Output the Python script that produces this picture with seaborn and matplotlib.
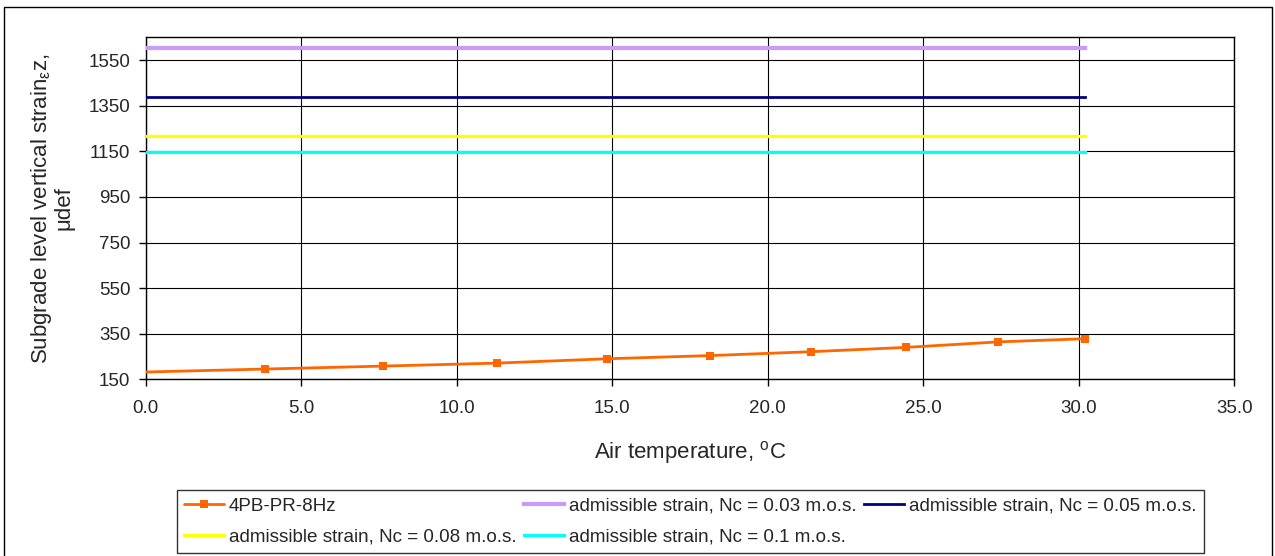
import matplotlib
matplotlib.use("Agg")
import matplotlib.pyplot as plt
import seaborn as sns
import pandas as pd
from matplotlib.patches import Rectangle

# Measured subgrade strain vs. air temperature
temperature = [0.0, 3.84, 7.64, 11.29, 14.82, 18.14, 21.38, 24.44, 27.4, 30.2]
strain_4pb = [182, 195, 208, 221, 240, 254, 271, 290, 314, 328]

# Admissible strain limits (constant over the temperature range)
limit_x = [0.0, 30.2]
limit_labels = [
    "admissible strain, Nc = 0.03 m.o.s.",
    "admissible strain, Nc = 0.05 m.o.s.",
    "admissible strain, Nc = 0.08 m.o.s.",
    "admissible strain, Nc = 0.1 m.o.s.",
]
limit_values = [1601, 1389, 1215, 1146]
limit_colors = ["#CC99FF", "#000080", "#FFFF00", "#00FFFF"]
limit_widths = [3.0, 2.0, 2.3, 2.3]

x_ticks = [0, 5, 10, 15, 20, 25, 30, 35]
y_ticks = [150, 350, 550, 750, 950, 1150, 1350, 1550]

sns.set_theme(style="white")
plt.rcParams["font.family"] = ["Liberation Sans", "DejaVu Sans"]
plt.rcParams["mathtext.fontset"] = "custom"
plt.rcParams["mathtext.rm"] = "Liberation Sans"
plt.rcParams["mathtext.it"] = "Liberation Sans"

fig = plt.figure(figsize=(12.75, 5.56), dpi=100)
ax = fig.add_axes([0.1143, 0.3178, 0.9681 - 0.1143, 0.9329 - 0.3178])

df = pd.DataFrame({"t": temperature, "s": strain_4pb})
sns.lineplot(data=df, x="t", y="s", ax=ax, color="#FF6600", lw=2.0,
             marker="s", markersize=6, markeredgewidth=0,
             markevery=list(range(1, len(temperature))),
             label="4PB-PR-8Hz", zorder=5)

for lab, val, col, w in zip(limit_labels, limit_values, limit_colors, limit_widths):
    ldf = pd.DataFrame({"t": limit_x, "s": [val, val]})
    sns.lineplot(data=ldf, x="t", y="s", ax=ax, color=col, lw=w,
                 label=lab, zorder=4, solid_capstyle="projecting")

ax.set_xlim(0, 35)
ax.set_ylim(150, 1650)
ax.set_xticks(x_ticks)
ax.set_xticklabels([f"{v:.1f}" for v in x_ticks])
ax.set_yticks(y_ticks)
ax.grid(True, color="black", lw=0.8)
for sp in ax.spines.values():
    sp.set_color("black")
    sp.set_linewidth(1.0)
ax.tick_params(axis="both", direction="out", length=5, width=1, color="black",
               labelsize=13.5, pad=6, left=True, bottom=True)
ax.tick_params(axis="x", pad=10)

ax.set_xlabel(r"Air temperature, $^{\mathregular{o}}$C", fontsize=16, labelpad=16)
ax.set_ylabel("Subgrade level vertical strain$_{\\mathregular{\u03b5}}$z,\n\u03bcdef",
              fontsize=16, labelpad=10, linespacing=1.0)

handles, labels = ax.get_legend_handles_labels()
ax.get_legend().remove()
order = [0, 3, 1, 4, 2]
leg = fig.legend([handles[i] for i in order], [labels[i] for i in order],
                 loc="upper left", bbox_to_anchor=(0.1386, 0.1187), ncol=3,
                 fontsize=13.6, frameon=True, fancybox=False, edgecolor="black",
                 handlelength=2.1, handletextpad=0.27, columnspacing=0.4,
                 borderpad=0.4, labelspacing=0.7, borderaxespad=0)
leg.get_frame().set_linewidth(1.0)

fig.patches.append(Rectangle((4 / 1275, -2 / 556), 1268 / 1275, 551 / 556,
                             transform=fig.transFigure, fill=False,
                             edgecolor="black", lw=1.0))

fig.savefig("out.png", dpi=100)
